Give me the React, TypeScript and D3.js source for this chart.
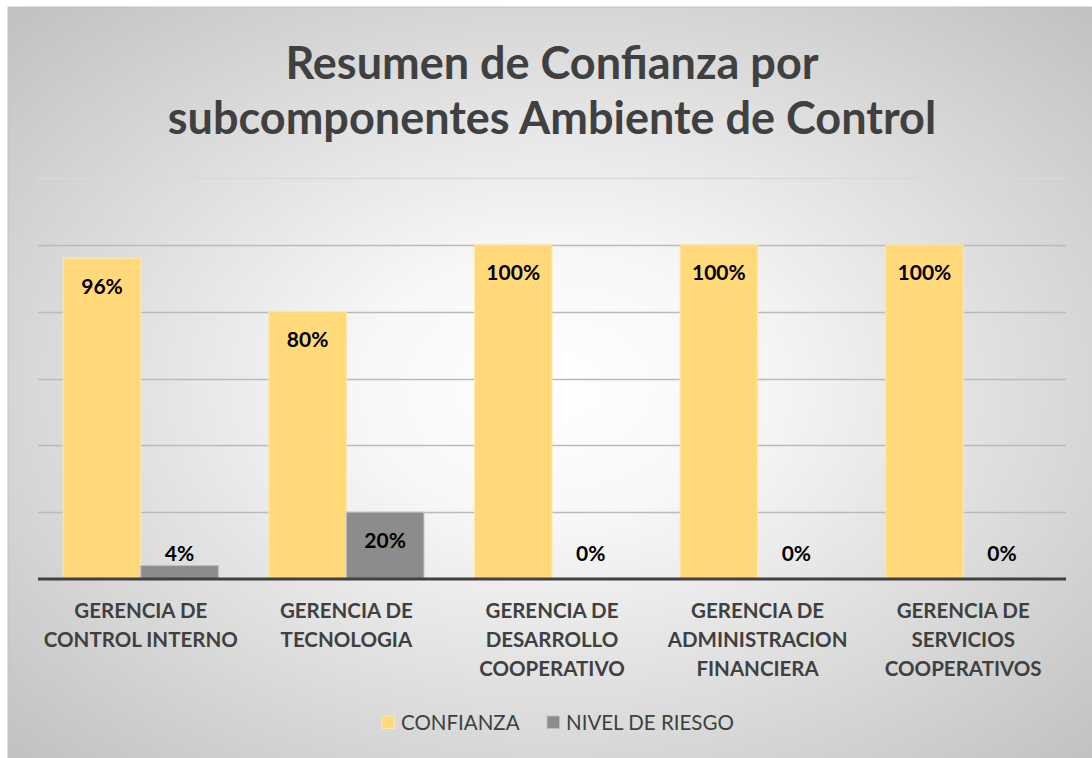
import React from "react";
import * as d3 from "d3";

const categories: string[][] = [
  ["GERENCIA DE", "CONTROL INTERNO"],
  ["GERENCIA DE", "TECNOLOGIA"],
  ["GERENCIA DE", "DESARROLLO", "COOPERATIVO"],
  ["GERENCIA DE", "ADMINISTRACION", "FINANCIERA"],
  ["GERENCIA DE", "SERVICIOS", "COOPERATIVOS"],
];
const seriesNames = ["CONFIANZA", "NIVEL DE RIESGO"];
const confianza = [0.96, 0.8, 1.0, 1.0, 1.0];
const nivelRiesgo = [0.04, 0.2, 0, 0, 0];
const yTicks = [0, 0.2, 0.4, 0.6, 0.8, 1.0, 1.2];
const titleLines = ["Resumen de Confianza por", "subcomponentes Ambiente de Control"];

const W = 1092;
const H = 758;
const FONT = "Lato, 'Open Sans', sans-serif";
const colors = ["#FFD97A", "#8C8C8C"];
const borderColors = ["#FCE8B0", "#BDBDBD"];

export default function App() {
  const left = 38, right = 1066, top = 178, bottom = 579;
  const y = d3.scaleLinear().domain([0, 1.2]).range([bottom, top]);
  const x0 = d3
    .scaleBand<number>()
    .domain(d3.range(categories.length))
    .range([left, right])
    .paddingInner(0.246)
    .paddingOuter(0.123);
  const x1 = d3.scaleBand<number>().domain([0, 1]).range([0, x0.bandwidth()]).padding(0);
  const series = [confianza, nivelRiesgo];
  const fmt = d3.format(".0%");

  const labelY = (v: number) => {
    const t = y(v);
    const h = bottom - t;
    return h > 30 ? t + 35.5 : Math.min(t - 4.5, bottom - 18);
  };

  return (
    <div style={{ position: "fixed", left: 0, top: 0, width: W, height: H, overflow: "hidden" }}>
      <svg width={W} height={H} style={{ display: "block" }}>
        <defs>
          <radialGradient id="bg" cx="0.5" cy="0.5" r="0.72">
            <stop offset="0" stopColor="#ffffff" />
            <stop offset="0.25" stopColor="#f7f7f7" />
            <stop offset="1" stopColor="#bfbfbf" />
          </radialGradient>
        </defs>
        <rect x={0} y={0} width={W} height={H} fill="#ffffff" />
        <rect x={8} y={7} width={W} height={H} fill="url(#bg)" stroke="#c4c4c4" strokeWidth={1} />

        {/* title */}
        {titleLines.map((t, i) => (
          <text
            key={i}
            x={552}
            y={79 + i * 55}
            textAnchor="middle"
            fontFamily={FONT}
            fontWeight={700}
            fontSize={45}
            fill="#404040"
          >
            {t}
          </text>
        ))}

        {/* gridlines */}
        {yTicks.slice(1).map((t) => (
          <line
            key={t}
            x1={left}
            x2={right}
            y1={Math.round(y(t)) + 0.5}
            y2={Math.round(y(t)) + 0.5}
            stroke={t >= 1.2 ? "#d9d9d9" : "#bababa"}
            strokeWidth={1.5}
          />
        ))}

        {/* bars */}
        {categories.map((_, i) => (
          <g key={i} transform={`translate(${x0(i)},0)`}>
            {series.map((s, k) => {
              const v = s[i];
              const bx = x1(k)!;
              const bw = x1.bandwidth();
              return (
                <g key={k}>
                  {v > 0 && (
                    <rect
                      x={bx}
                      y={y(v)}
                      width={bw}
                      height={bottom - y(v)}
                      fill={colors[k]}
                      stroke={borderColors[k]}
                      strokeWidth={1}
                    />
                  )}
                  <text
                    x={bx + bw / 2}
                    y={labelY(v)}
                    textAnchor="middle"
                    fontFamily={FONT}
                    fontWeight={700}
                    fontSize={21}
                    fill="#000000"
                  >
                    {fmt(v)}
                  </text>
                </g>
              );
            })}
          </g>
        ))}

        {/* baseline */}
        <line x1={left} x2={right} y1={bottom} y2={bottom} stroke="#404040" strokeWidth={3} />

        {/* category labels */}
        {categories.map((lines, i) => (
          <text
            key={i}
            x={x0(i)! + x0.bandwidth() / 2}
            textAnchor="middle"
            fontFamily={FONT}
            fontWeight={700}
            fontSize={20.5}
            fill="#404040"
          >
            {lines.map((l, j) => (
              <tspan key={j} x={x0(i)! + x0.bandwidth() / 2} y={618 + j * 29}>
                {l}
              </tspan>
            ))}
          </text>
        ))}

        {/* legend */}
        {seriesNames.map((n, k) => {
          const mx = k === 0 ? 382 : 547;
          return (
            <g key={n}>
              <rect x={mx} y={716} width={12.5} height={12.5} fill={colors[k]} stroke={borderColors[k]} strokeWidth={1} />
              <text x={mx + 19} y={730} fontFamily={FONT} fontSize={20.5} fill="#404040">
                {n}
              </text>
            </g>
          );
        })}
      </svg>
    </div>
  );
}
